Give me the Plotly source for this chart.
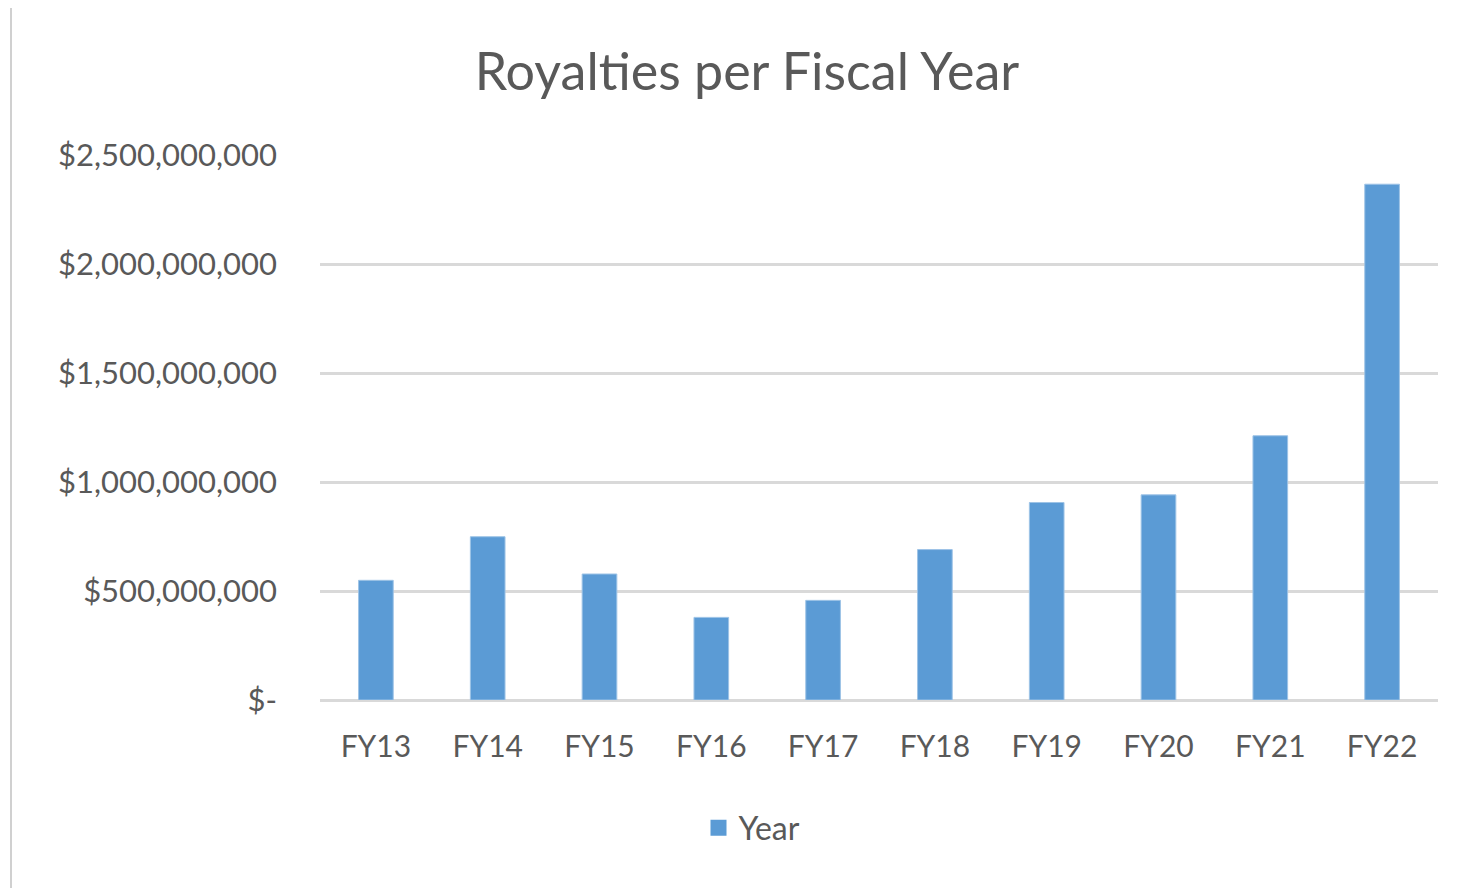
import plotly.graph_objects as go

categories = ["FY13", "FY14", "FY15", "FY16", "FY17", "FY18", "FY19", "FY20", "FY21", "FY22"]
royalties = [549e6, 749e6, 578e6, 379e6, 457e6, 690e6, 906e6, 941e6, 1212e6, 2366e6]
series_name = "Year"
tick_values = [0, 500e6, 1000e6, 1500e6, 2000e6, 2500e6]
tick_labels = ["$-", "$500,000,000", "$1,000,000,000", "$1,500,000,000", "$2,000,000,000", "$2,500,000,000"]

# the page has an 8px body margin; work in screenshot pixels and convert
O = 8
W, H = 1480 - O, 888 - O
L = 320 - O          # plot left at screenshot x=320
R = 1480 - 1438      # plot right at screenshot x=1438
T = 155 - O          # plot top at screenshot y=155
B = 888 - 700        # plot bottom at screenshot y=700
pw, ph = W - L - R, H - T - B

def px(x):
    return (x - O - L) / pw

def py(y):
    return (H - B - (y - O)) / ph

font_family = "Lato, 'Open Sans', sans-serif"
grey = "#595959"
bar_color = "#5B9BD5"

fig = go.Figure()
fig.add_trace(go.Bar(
    x=categories, y=royalties, name=series_name,
    marker=dict(color=bar_color, line=dict(color="#9DC3E6", width=1)),
    showlegend=False,
))
# legend entry with a larger square swatch
fig.add_trace(go.Scatter(
    x=[None], y=[None], mode="markers", name=series_name,
    marker=dict(symbol="square", size=20, color=bar_color),
    showlegend=True, hoverinfo="skip",
))

shapes = [
    dict(type="line", xref="paper", yref="paper", x0=px(11), x1=px(11), y0=py(8), y1=py(888),
         line=dict(color="#D0D0D0", width=2), layer="below"),
]

fig.update_layout(
    width=W, height=H,
    margin=dict(l=L, r=R, t=T, b=B, pad=0),
    paper_bgcolor="white", plot_bgcolor="white",
    title=dict(text="Royalties per Fiscal Year", xref="container", x=(747 - O) / W, xanchor="center",
               yref="container", y=1 - (72 - O) / H, yanchor="middle",
               font=dict(family=font_family, size=52, color=grey)),
    bargap=0.69,
    xaxis=dict(tickfont=dict(family=font_family, size=30, color=grey), showgrid=False,
               showline=False, ticks="", ticklabelstandoff=26),
    yaxis=dict(range=[0, 2.5e9], tickvals=tick_values, ticktext=tick_labels,
               tickfont=dict(family=font_family, size=31, color=grey),
               gridcolor="#D9D9D9", gridwidth=3, zeroline=True, zerolinecolor="#D9D9D9",
               zerolinewidth=3, showline=False, ticks="", ticklabelstandoff=42),
    legend=dict(orientation="h", x=px(752), xanchor="center", y=py(828), yanchor="middle",
                font=dict(family=font_family, size=32, color=grey), itemwidth=30),
    shapes=shapes,
)

fig.write_html("out.html")
